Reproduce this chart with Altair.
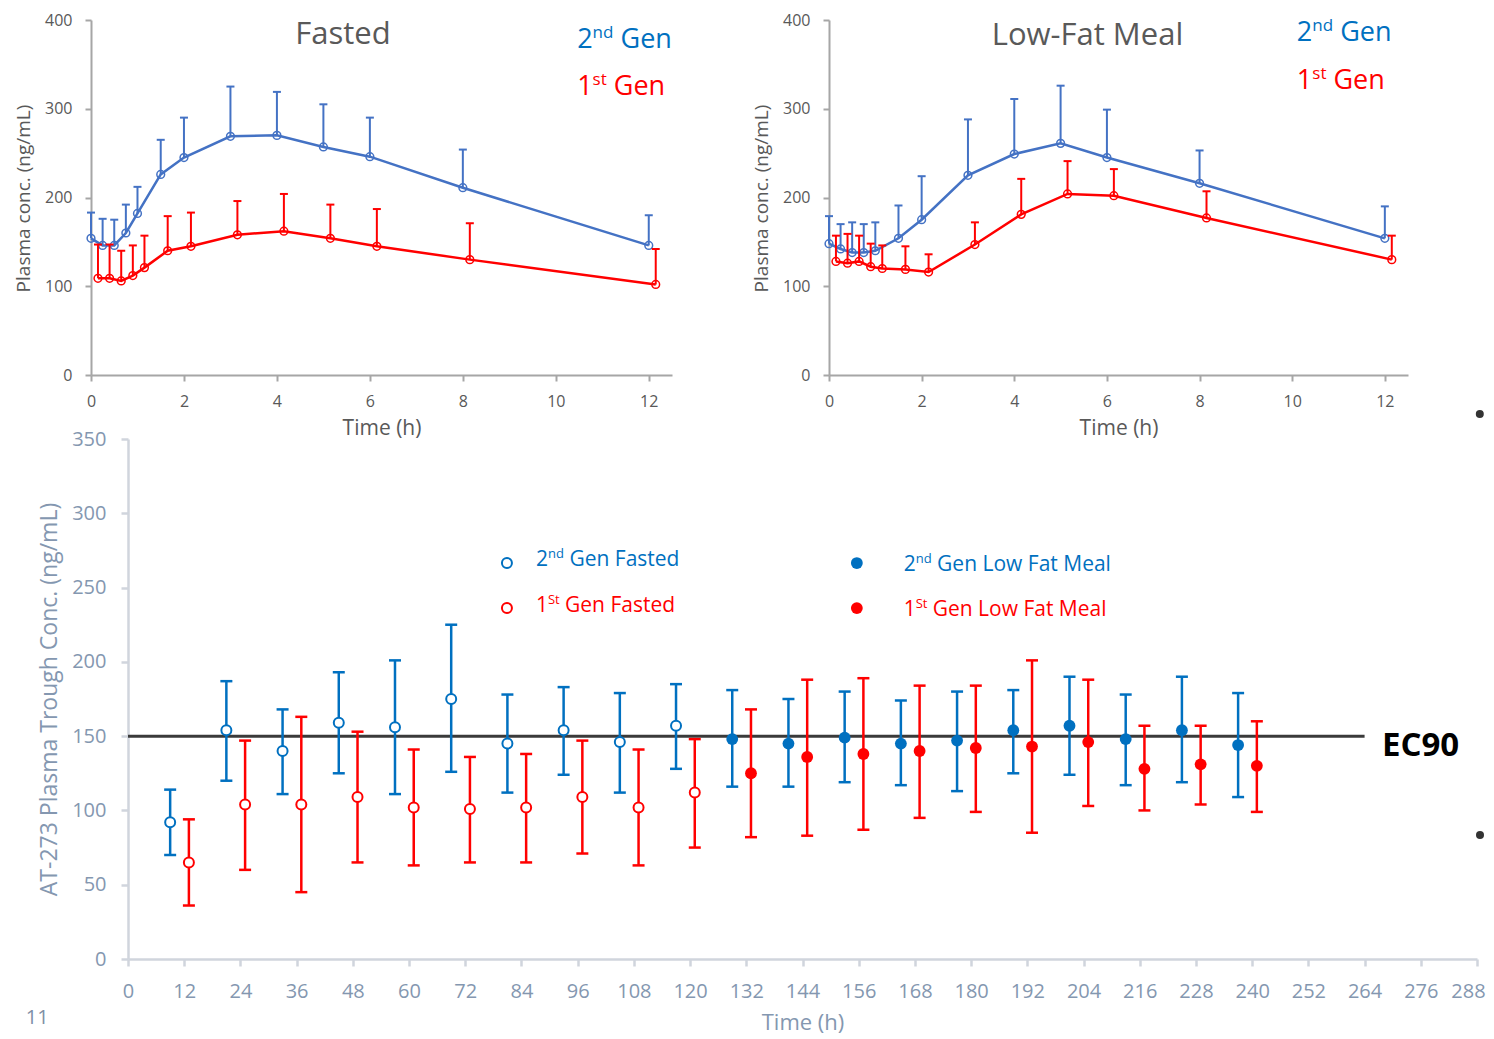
import altair as alt
import pandas as pd

FONT = "Open Sans"
BLUE_PK = "#4472C4"
BLUE = "#0070C0"
RED = "#FF0000"
GRAY_TXT = "#595959"
BG_TXT = "#8497B0"

# ---------------- data: PK profiles (top panels) ----------------
pk_t_2nd = [0, 0.25, 0.5, 0.75, 1, 1.5, 2, 3, 4, 5, 6, 8, 12]
pk_t_1st = [0.15, 0.4, 0.65, 0.9, 1.15, 1.65, 2.15, 3.15, 4.15, 5.15, 6.15, 8.15, 12.15]

fasted_2nd_mean = [154, 146, 146, 160, 182, 226, 245, 269, 270, 257, 246, 211, 146]
fasted_2nd_upper = [183, 176, 175, 192, 212, 265, 290, 325, 319, 305, 290, 254, 180]
fasted_1st_mean = [109, 109, 106, 112, 121, 140, 145, 158, 162, 154, 145, 130, 102]
fasted_1st_upper = [147, 147, 140, 146, 157, 179, 183, 196, 204, 192, 187, 171, 142]

lfm_2nd_mean = [148, 142, 138, 138, 140, 154, 175, 225, 249, 261, 245, 216, 154]
lfm_2nd_upper = [179, 170, 172, 170, 172, 191, 224, 288, 311, 326, 299, 253, 190]
lfm_1st_mean = [128, 126, 128, 122, 120, 119, 116, 147, 181, 204, 202, 177, 130]
lfm_1st_upper = [157, 159, 157, 148, 146, 145, 136, 172, 221, 241, 232, 207, 157]

# ---------------- data: trough concentrations (bottom panel) ----------------
tr_2nd_fasted_t = [9, 21, 33, 45, 57, 69, 81, 93, 105, 117]
tr_2nd_fasted_mean = [92, 154, 140, 159, 156, 175, 145, 154, 146, 157]
tr_2nd_fasted_lo = [70, 120, 111, 125, 111, 126, 112, 124, 112, 128]
tr_2nd_fasted_hi = [114, 187, 168, 193, 201, 225, 178, 183, 179, 185]

tr_1st_fasted_t = [13, 25, 37, 49, 61, 73, 85, 97, 109, 121]
tr_1st_fasted_mean = [65, 104, 104, 109, 102, 101, 102, 109, 102, 112]
tr_1st_fasted_lo = [36, 60, 45, 65, 63, 65, 65, 71, 63, 75]
tr_1st_fasted_hi = [94, 147, 163, 153, 141, 136, 138, 147, 141, 148]

tr_2nd_lfm_t = [129, 141, 153, 165, 177, 189, 201, 213, 225, 237]
tr_2nd_lfm_mean = [148, 145, 149, 145, 147, 154, 157, 148, 154, 144]
tr_2nd_lfm_lo = [116, 116, 119, 117, 113, 125, 124, 117, 119, 109]
tr_2nd_lfm_hi = [181, 175, 180, 174, 180, 181, 190, 178, 190, 179]

tr_1st_lfm_t = [133, 145, 157, 169, 181, 193, 205, 217, 229, 241]
tr_1st_lfm_mean = [125, 136, 138, 140, 142, 143, 146, 128, 131, 130]
tr_1st_lfm_lo = [82, 83, 87, 95, 99, 85, 103, 100, 104, 99]
tr_1st_lfm_hi = [168, 188, 189, 184, 184, 201, 188, 157, 157, 160]

ec90_value = 150
ec90_x_range = [0, 264]

# ---------------- helpers ----------------
W = {' ': 0.26, '0': 0.572, '1': 0.572, '2': 0.572, 'n': 0.614, 'd': 0.613,
     's': 0.477, 't': 0.353, 'S': 0.535}


def tw(s, fs):
    return sum(W.get(ch, 0.56) for ch in s) * fs


def sup_label(X, Y, x, y, base, sup, rest, color, fs, sfs, rise):
    df = pd.DataFrame({'x': [x], 'y': [y]})
    out = []
    off = 0.0
    pieces = [(base, fs, 0), (sup, sfs, -rise), (rest, fs, 0)]
    for i, (txt, size, dy) in enumerate(pieces):
        if i == 2:
            off += tw(' ', fs)
        out.append(alt.Chart(df).mark_text(
            text=txt, align='left', baseline='alphabetic', dx=off, dy=dy,
            fontSize=size, color=color, font=FONT).encode(x=X, y=Y))
        off += tw(txt, size)
    return out


TOP_AX = dict(grid=False, domainColor='#A6A6A6', domainWidth=2, tickColor='#A6A6A6',
              tickWidth=2, tickSize=6, labelColor=GRAY_TXT, labelFontSize=16,
              labelFont=FONT, titleColor=GRAY_TXT, titleFont=FONT,
              titleFontWeight='normal', labelFlush=False)

BOT_AX = dict(grid=False, domainColor='#D0D5DD', domainWidth=2.5, tickColor='#D0D5DD',
              tickWidth=2.5, tickSize=7, labelColor=BG_TXT,
              labelFont=FONT, titleColor=BG_TXT, titleFont=FONT,
              titleFontWeight='normal', labelFlush=False)


def pk_panel(width, m2, u2, m1, u1, title, title_pos, leg_x, leg_y2, leg_y1, extra=None):
    X = alt.X('x:Q', scale=alt.Scale(domain=[0, 12.5], nice=False, zero=False),
              axis=alt.Axis(values=[0, 2, 4, 6, 8, 10, 12], title='Time (h)',
                            labelPadding=12, titleFontSize=21, titleY=53,
                            titleBaseline='middle', **TOP_AX))
    Y = alt.Y('y:Q', scale=alt.Scale(domain=[0, 400], nice=False),
              axis=alt.Axis(values=[0, 100, 200, 300, 400], title='Plasma conc. (ng/mL)',
                            labelPadding=13, titleFontSize=19, titleX=-68, titleY=178,
                            titleAlign='center', titleBaseline='middle', **TOP_AX))
    layers = []
    for t, m, u, col in ((pk_t_2nd, m2, u2, BLUE_PK), (pk_t_1st, m1, u1, RED)):
        d = pd.DataFrame({'x': t, 'y': m, 'y2': u})
        cap = pd.DataFrame({'x': t, 'y': u})
        layers += [
            alt.Chart(d).mark_rule(color=col, strokeWidth=2).encode(
                x=X, y=Y, y2=alt.Y2('y2:Q')),
            alt.Chart(cap).mark_tick(orient='horizontal', size=8, thickness=2,
                                     color=col, opacity=1).encode(x=X, y=Y),
            alt.Chart(d).mark_line(color=col, strokeWidth=2.5).encode(x=X, y=Y),
            alt.Chart(d).mark_point(shape='circle', filled=False, size=60,
                                    strokeWidth=1.5, color=col, opacity=1).encode(x=X, y=Y),
        ]
    tdf = pd.DataFrame({'x': [title_pos[0]], 'y': [title_pos[1]]})
    layers.append(alt.Chart(tdf).mark_text(text=title, fontSize=31, color=GRAY_TXT,
                                           align='center', baseline='alphabetic',
                                           font=FONT).encode(x=X, y=Y))
    layers += sup_label(X, Y, leg_x, leg_y2, '2', 'nd', 'Gen', BLUE, 27, 17, 10)
    layers += sup_label(X, Y, leg_x, leg_y1, '1', 'st', 'Gen', RED, 27, 17, 10)
    if extra is not None:
        ddf = pd.DataFrame({'x': [extra[0]], 'y': [extra[1]]})
        layers.append(alt.Chart(ddf).mark_circle(size=64, color='#333333', opacity=1)
                      .encode(x=X, y=Y))
    return alt.layer(*layers).properties(width=width, height=355)


tl = pk_panel(581, fasted_2nd_mean, fasted_2nd_upper, fasted_1st_mean, fasted_1st_upper,
              'Fasted', (5.42, 373), 10.46, 368.5, 315.5)
tr = pk_panel(579, lfm_2nd_mean, lfm_2nd_upper, lfm_1st_mean, lfm_1st_upper,
              'Low-Fat Meal', (5.58, 371.8), 10.1, 376.3, 322.3, extra=(14.05, -44.0))

# ---------------- bottom panel ----------------
Xb = alt.X('x:Q', scale=alt.Scale(domain=[0, 288], nice=False, zero=False),
           axis=alt.Axis(values=list(range(0, 289, 12)), title='Time (h)', labelPadding=15,
                         labelFontSize=20, titleFontSize=22,
                         labelOffset=alt.condition('datum.value == 288',
                                                   alt.value(-9), alt.value(0)),
                         titleY=63, titleBaseline='middle', **BOT_AX))
Yb = alt.Y('y:Q', scale=alt.Scale(domain=[0, 350], nice=False),
           axis=alt.Axis(values=list(range(0, 351, 50)),
                         title='AT-273 Plasma Trough Conc. (ng/mL)', labelPadding=15,
                         labelFontSize=20, titleFontSize=23,
                         titleX=-79, titleY=260, titleAlign='center',
                         titleBaseline='middle', **BOT_AX))

blayers = []
ec = pd.DataFrame({'x': [ec90_x_range[0]], 'x2': [ec90_x_range[1]], 'y': [ec90_value]})
blayers.append(alt.Chart(ec).mark_rule(color='#3A3A3A', strokeWidth=3).encode(
    x=Xb, x2=alt.X2('x2:Q'), y=Yb))

series = [
    (tr_2nd_fasted_t, tr_2nd_fasted_mean, tr_2nd_fasted_lo, tr_2nd_fasted_hi, BLUE, False),
    (tr_1st_fasted_t, tr_1st_fasted_mean, tr_1st_fasted_lo, tr_1st_fasted_hi, RED, False),
    (tr_2nd_lfm_t, tr_2nd_lfm_mean, tr_2nd_lfm_lo, tr_2nd_lfm_hi, BLUE, True),
    (tr_1st_lfm_t, tr_1st_lfm_mean, tr_1st_lfm_lo, tr_1st_lfm_hi, RED, True),
]


def open_pt(col, size=100):
    return dict(shape='circle', filled=False, fill='white', size=size, strokeWidth=2,
                color=col, opacity=1)


for t, m, lo, hi, col, filled in series:
    d = pd.DataFrame({'x': t, 'y': lo, 'y2': hi})
    caps = pd.DataFrame({'x': t + t, 'y': lo + hi})
    pts = pd.DataFrame({'x': t, 'y': m})
    blayers.append(alt.Chart(d).mark_rule(color=col, strokeWidth=2.5).encode(
        x=Xb, y=Yb, y2=alt.Y2('y2:Q')))
    blayers.append(alt.Chart(caps).mark_tick(orient='horizontal', size=12, thickness=2.5,
                                             color=col, opacity=1).encode(x=Xb, y=Yb))
    if filled:
        blayers.append(alt.Chart(pts).mark_circle(size=140, color=col, opacity=1).encode(
            x=Xb, y=Yb))
    else:
        blayers.append(alt.Chart(pts).mark_point(**open_pt(col)).encode(x=Xb, y=Yb))

# legend inside the plot
leg_open = pd.DataFrame({'x': [80.9], 'y': [266.5]})
leg_open_r = pd.DataFrame({'x': [80.9], 'y': [236.2]})
leg_fill = pd.DataFrame({'x': [155.6], 'y': [266.5]})
leg_fill_r = pd.DataFrame({'x': [155.6], 'y': [236.2]})
blayers.append(alt.Chart(leg_open).mark_point(**open_pt(BLUE)).encode(x=Xb, y=Yb))
blayers.append(alt.Chart(leg_open_r).mark_point(**open_pt(RED)).encode(x=Xb, y=Yb))
blayers.append(alt.Chart(leg_fill).mark_circle(size=140, color=BLUE, opacity=1).encode(x=Xb, y=Yb))
blayers.append(alt.Chart(leg_fill_r).mark_circle(size=140, color=RED, opacity=1).encode(x=Xb, y=Yb))
blayers += sup_label(Xb, Yb, 87.1, 264.5, '2', 'nd', 'Gen Fasted', BLUE, 21, 13, 8)
blayers += sup_label(Xb, Yb, 87.1, 233.5, '1', 'St', 'Gen Fasted', RED, 21, 13, 8)
blayers += sup_label(Xb, Yb, 165.6, 261.1, '2', 'nd', 'Gen Low Fat Meal', BLUE, 21, 13, 8)
blayers += sup_label(Xb, Yb, 165.6, 230.8, '1', 'St', 'Gen Low Fat Meal', RED, 21, 13, 8)

ec_lab = pd.DataFrame({'x': [267.7], 'y': [136.6]})
blayers.append(alt.Chart(ec_lab).mark_text(text='EC90', fontSize=33, fontWeight='bold',
                                           color='#000000', align='left',
                                           baseline='alphabetic', font=FONT).encode(x=Xb, y=Yb))
slide_no = pd.DataFrame({'x': [-19.4], 'y': [-40.0]})
blayers.append(alt.Chart(slide_no).mark_text(text='11', fontSize=20, color='#7F8FA6',
                                             align='center', baseline='middle',
                                             font=FONT).encode(x=Xb, y=Yb))
dots = pd.DataFrame({'x': [288.64], 'y': [83.4]})
blayers.append(alt.Chart(dots).mark_circle(size=64, color='#333333', opacity=1).encode(x=Xb, y=Yb))

bottom = alt.layer(*blayers).properties(width=1349, height=520)

spacer = alt.Chart(pd.DataFrame({'x': [0]})).mark_point(opacity=0).encode(
    x=alt.X('x:Q', axis=None), y=alt.Y('x:Q', axis=None)).properties(width=1, height=1)

top_row = alt.hconcat(tl, tr, spacing=157, bounds='flush')
bottom_row = alt.hconcat(spacer, bottom, spacing=36, bounds='flush')

chart = alt.vconcat(top_row, bottom_row, spacing=-18.5).properties(
    padding={'left': 5, 'top': 3, 'right': 0, 'bottom': 3}
).configure(font=FONT).configure_view(stroke='transparent')

chart.save("out.html", embed_options={"renderer": "svg", "actions": False})
